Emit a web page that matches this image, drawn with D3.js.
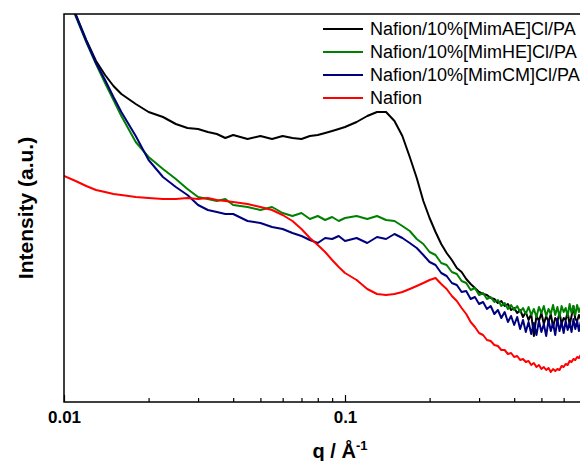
<!DOCTYPE html>
<html lang="en">
	<head>
		<meta charset="utf-8">
		<title>SAXS profiles</title>
		<script type="text/javascript" src="https://cdn.jsdelivr.net/npm/d3@7"></script>
		<style type="text/css">
			body { margin: 0; background: #fff; }
			svg { display: block; font-family: "Liberation Sans", Arial, sans-serif; }
		</style>
	</head>
	<body>
		<script type="text/javascript">

			//Scattering vector q (1/A), shared by all four curves
			var qValues = [0.010, 0.011, 0.012, 0.013, 0.014, 0.015, 0.016, 0.018, 0.020, 0.0225,
				0.025, 0.0275, 0.030, 0.0325, 0.035, 0.0375, 0.040, 0.045, 0.050, 0.055,
				0.060, 0.065, 0.070, 0.075, 0.080, 0.085, 0.090, 0.095, 0.100,
				0.11, 0.12, 0.13, 0.14, 0.15, 0.16, 0.17, 0.18, 0.19,
				0.20, 0.21, 0.22, 0.23, 0.24, 0.25, 0.26, 0.27, 0.28, 0.29,
				0.30, 0.31, 0.32, 0.33, 0.34, 0.35, 0.36, 0.37, 0.38, 0.39,
				0.40, 0.41, 0.42, 0.43, 0.44, 0.45, 0.46, 0.47, 0.48, 0.49,
				0.50, 0.51, 0.52, 0.53, 0.54, 0.55, 0.56, 0.57, 0.58, 0.59,
				0.60, 0.61, 0.62, 0.63, 0.64, 0.65, 0.66, 0.67, 0.68, 0.69, 0.70];

			//Intensity (a.u.)
			var aeValues = [417, 388, 362, 341, 327, 316, 308, 298, 290, 285,
				278, 274, 273, 270, 268, 264, 267, 263, 266, 263,
				266, 264, 263, 266, 267, 269, 271, 273, 275,
				280, 286, 290, 290, 281, 266, 245, 224, 201,
				184, 170, 158, 149, 142, 134, 130, 123, 118, 114,
				110, 108, 107, 104, 103, 99, 101, 96, 98, 92,
				94, 89, 92, 85, 90, 82, 88, 66, 86, 81,
				89, 78, 86, 80, 88, 75, 84, 81, 89, 78,
				84, 82, 90, 77, 86, 96, 83, 81, 87, 83, 86];

			var heValues = [414, 386, 360, 338, 319, 302, 286, 260, 245, 233,
				223, 213, 205, 203, 201, 203, 197, 195, 192, 195,
				189, 186, 189, 183, 186, 182, 185, 181, 184,
				186, 183, 186, 182, 181, 176, 171, 163, 158,
				150, 147, 139, 137, 130, 128, 121, 119, 112, 114,
				107, 109, 103, 105, 100, 102, 96, 99, 93, 97,
				92, 96, 90, 94, 88, 95, 87, 93, 85, 95,
				89, 96, 86, 93, 88, 97, 87, 95, 85, 96,
				90, 94, 86, 98, 89, 96, 87, 97, 90, 95, 90];

			var cmValues = [415, 387, 361, 339, 322, 305, 290, 266, 242, 225,
				215, 207, 197, 192, 190, 188, 188, 181, 179, 175,
				173, 169, 166, 162, 159, 164, 163, 166, 161,
				164, 159, 165, 163, 168, 164, 159, 154, 147,
				140, 137, 129, 126, 119, 117, 110, 111, 103, 105,
				98, 100, 93, 96, 88, 92, 84, 90, 80, 86,
				77, 85, 73, 82, 70, 80, 68, 79, 67, 81,
				70, 78, 66, 82, 71, 79, 67, 83, 71, 80,
				69, 81, 72, 79, 70, 83, 73, 81, 71, 80, 74];

			var nafionValues = [226, 221, 216, 212, 210, 208, 207, 205, 204, 203,
				203, 204, 203, 204, 202, 201, 200, 198, 195, 192,
				187, 181, 173, 164, 157, 150, 142, 135, 129,
				122, 113, 108, 107, 108, 110, 113, 116, 119,
				122, 124, 118, 113, 106, 101, 94, 88, 80, 75,
				69, 67, 62, 61, 57, 56, 52, 52, 48, 49,
				45, 46, 42, 43, 40, 41, 37, 39, 35, 37,
				33, 35, 32, 34, 30, 33, 31, 33, 32, 36,
				35, 38, 37, 41, 40, 43, 42, 45, 44, 47, 45];

			var seriesNames = ["Nafion/10%[MimAE]Cl/PA", "Nafion/10%[MimHE]Cl/PA", "Nafion/10%[MimCM]Cl/PA", "Nafion"];
			var seriesColors = ["#000000", "#008000", "#00007f", "#ff0000"];
			var xTickValues = [0.01, 0.1];
			var xMinorValues = [0.02, 0.03, 0.04, 0.05, 0.06, 0.07, 0.08, 0.09, 0.2, 0.3, 0.4, 0.5, 0.6, 0.7, 0.8, 0.9];

			//Width and height
			var w = 580;
			var h = 461;
			var plotLeft = 64, plotTop = 14, plotRight = 626, plotBottom = 402;

			var dataset = [aeValues, heValues, cmValues, nafionValues].map(function(vals, i) {
				return {
					name: seriesNames[i],
					color: seriesColors[i],
					points: qValues.map(function(q, j) { return { q: q, I: vals[j] }; })
				};
			});

			var xScale = d3.scaleLog()
						   .domain([0.01, 1])
						   .range([plotLeft, plotRight]);

			var yScale = d3.scaleLinear()
						   .domain([0, 388])
						   .range([plotBottom, plotTop]);

			var svg = d3.select("body")
						.append("svg")
						.attr("width", w)
						.attr("height", h);

			svg.append("clipPath")
			   .attr("id", "plot-clip")
			   .append("rect")
			   .attr("x", plotLeft)
			   .attr("y", plotTop)
			   .attr("width", plotRight - plotLeft)
			   .attr("height", plotBottom - plotTop);

			var line = d3.line()
						 .x(function(d) { return xScale(d.q); })
						 .y(function(d) { return yScale(d.I); });

			svg.append("g")
			   .attr("clip-path", "url(#plot-clip)")
			   .selectAll("path")
			   .data(dataset)
			   .enter()
			   .append("path")
			   .attr("d", function(d) { return line(d.points); })
			   .attr("fill", "none")
			   .attr("stroke", function(d) { return d.color; })
			   .attr("stroke-width", 2)
			   .attr("stroke-linejoin", "round");

			//Frame
			svg.append("rect")
			   .attr("x", plotLeft)
			   .attr("y", plotTop)
			   .attr("width", plotRight - plotLeft)
			   .attr("height", plotBottom - plotTop)
			   .attr("fill", "none")
			   .attr("stroke", "#000")
			   .attr("stroke-width", 1.5);

			//Minor ticks, then major ticks with labels
			var minorAxis = d3.axisBottom(xScale)
							  .tickValues(xMinorValues)
							  .tickSize(-4)
							  .tickSizeOuter(0)
							  .tickFormat("");

			var majorAxis = d3.axisBottom(xScale)
							  .tickValues(xTickValues)
							  .tickSize(-7)
							  .tickSizeOuter(0)
							  .tickPadding(9)
							  .tickFormat(function(d) { return d === 0.01 ? "0.01" : "0.1"; });

			svg.append("g")
			   .attr("transform", "translate(0," + plotBottom + ")")
			   .call(minorAxis)
			   .call(function(g) { g.select(".domain").remove(); })
			   .selectAll("line")
			   .attr("stroke-width", 1.2);

			svg.append("g")
			   .attr("transform", "translate(0," + plotBottom + ")")
			   .call(majorAxis)
			   .call(function(g) { g.select(".domain").remove(); })
			   .call(function(g) {
					g.selectAll("line").attr("stroke-width", 1.2);
					g.selectAll("text")
					 .attr("font-family", "Liberation Sans, Arial, sans-serif")
					 .attr("font-size", "17px")
					 .attr("font-weight", "bold")
					 .attr("fill", "#000");
			   });

			//Axis titles
			var xTitle = svg.append("text")
							.attr("x", 340)
							.attr("y", 458)
							.attr("text-anchor", "middle")
							.attr("font-size", "20px")
							.attr("font-weight", "bold")
							.text("q / Å");
			xTitle.append("tspan")
				  .attr("dy", -8)
				  .attr("font-size", "13px")
				  .text("-1");

			svg.append("text")
			   .attr("transform", "translate(33,208) rotate(-90)")
			   .attr("text-anchor", "middle")
			   .attr("font-size", "21px")
			   .attr("font-weight", "bold")
			   .text("Intensity (a.u.)");

			//Legend
			var legend = svg.selectAll("g.legend")
							.data(dataset)
							.enter()
							.append("g")
							.attr("class", "legend")
							.attr("transform", function(d, i) { return "translate(323," + (29 + i * 23) + ")"; });

			legend.append("line")
				  .attr("x1", 0)
				  .attr("x2", 40)
				  .attr("stroke", function(d) { return d.color; })
				  .attr("stroke-width", 2);

			legend.append("text")
				  .attr("x", 47)
				  .attr("y", 6)
				  .attr("font-size", "18px")
				  .text(function(d) { return d.name; });

		</script>
	</body>
</html>
